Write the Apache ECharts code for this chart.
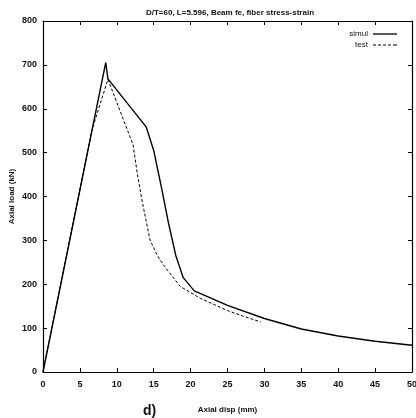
<!DOCTYPE html>
<html>
<head>
<meta charset="utf-8">
<script src="https://cdn.jsdelivr.net/npm/echarts@6/dist/echarts.min.js"></script>
<style>
  html, body { margin: 0; padding: 0; background: #fff; }
  #chart { width: 416px; height: 418px; }
</style>
</head>
<body>
<div id="chart"></div>
<script>
// Axial load vs axial displacement: simulation vs test
const simulDisp = [0, 8.5, 8.8, 14.0, 15.0, 16.0, 17.0, 18.0, 19.0, 20.5, 25, 30, 35, 40, 45, 50];
const simulLoad = [0, 705, 668, 558, 505, 425, 340, 265, 215, 185, 152, 122, 98, 82, 70, 61];

const testDisp = [0, 6.6, 8.8, 12.2, 12.8, 13.4, 14.5, 15.5, 16.5, 18.6, 21.3, 25, 27, 29.5];
const testLoad = [0, 550, 667, 518, 450, 392, 301, 265, 240, 195, 168, 140, 128, 114];

const xTicks = [0, 5, 10, 15, 20, 25, 30, 35, 40, 45, 50];
const yTicks = [0, 100, 200, 300, 400, 500, 600, 700, 800];

const titleText = 'D/T=60, L=5.596, Beam fe, fiber stress-strain';
const xName = 'Axial disp (mm)';
const yName = 'Axial load (kN)';
const seriesNames = ['simul', 'test'];

const FONT = '"Liberation Sans", Arial, sans-serif';
const pairs = (xs, ys) => xs.map((x, i) => [x, ys[i]]);

const chart = echarts.init(document.getElementById('chart'), null, { renderer: 'canvas' });

const tickStyle = { show: true, inside: true, length: 4, lineStyle: { color: '#000', width: 1 } };
const lineStyle = { color: '#000', width: 1.2 };

chart.setOption({
  animation: false,
  backgroundColor: '#fff',
  title: {
    text: titleText,
    left: 225, top: 4, textAlign: 'center',
    textStyle: { fontFamily: FONT, fontSize: 8, fontWeight: 'bold', color: '#111' }
  },
  grid: { left: 43, right: 4, top: 21, bottom: 46, outerBoundsMode: 'none', containLabel: false },
  xAxis: [{
    type: 'value', min: 0, max: 50, interval: 5,
    name: xName, nameLocation: 'middle', nameGap: 34, nameMoveOverlap: false,
    nameTextStyle: { fontFamily: FONT, fontSize: 8, fontWeight: 'bold', color: '#111' },
    axisLine: { show: true, onZero: false, lineStyle },
    axisTick: tickStyle,
    axisLabel: { margin: 8, fontFamily: FONT, fontSize: 9, fontWeight: 'bold', color: '#111',
      formatter: v => xTicks.includes(v) ? String(v) : '' },
    splitLine: { show: false }
  }, {
    type: 'value', position: 'top', min: 0, max: 50, interval: 5,
    axisLine: { show: true, onZero: false, lineStyle },
    axisTick: tickStyle, axisLabel: { show: false }, splitLine: { show: false }
  }],
  yAxis: [{
    type: 'value', min: 0, max: 800, interval: 100,
    name: yName, nameLocation: 'middle', nameGap: 27, nameRotate: 90, nameMoveOverlap: false,
    nameTextStyle: { fontFamily: FONT, fontSize: 8, fontWeight: 'bold', color: '#111' },
    axisLine: { show: true, onZero: false, lineStyle },
    axisTick: tickStyle,
    axisLabel: { margin: 6, fontFamily: FONT, fontSize: 9, fontWeight: 'bold', color: '#111',
      formatter: v => yTicks.includes(v) ? String(v) : '' },
    splitLine: { show: false }
  }, {
    type: 'value', position: 'right', min: 0, max: 800, interval: 100,
    axisLine: { show: true, onZero: false, lineStyle },
    axisTick: tickStyle, axisLabel: { show: false }, splitLine: { show: false }
  }],
  legend: {
    right: 14, top: 25, orient: 'vertical', align: 'right',
    itemWidth: 24, itemHeight: 8, itemGap: 3,
    textStyle: { fontFamily: FONT, fontSize: 8, color: '#111' },
    data: [
      { name: seriesNames[0], icon: 'path://M0,0 L24,0 L24,1.3 L0,1.3 Z' },
      { name: seriesNames[1], icon: 'path://M0,0 L3,0 L3,1 L0,1 Z M5,0 L8,0 L8,1 L5,1 Z M10,0 L13,0 L13,1 L10,1 Z M15,0 L18,0 L18,1 L15,1 Z M20,0 L24,0 L24,1 L20,1 Z' }
    ]
  },
  series: [{
    name: seriesNames[0], type: 'line', showSymbol: false, symbol: 'none',
    data: pairs(simulDisp, simulLoad),
    itemStyle: { color: '#000' },
    lineStyle: { color: '#000', width: 1.4 }
  }, {
    name: seriesNames[1], type: 'line', showSymbol: false, symbol: 'none',
    data: pairs(testDisp, testLoad),
    itemStyle: { color: '#000' },
    lineStyle: { color: '#000', width: 1, type: [3, 2] }
  }],
  graphic: [{
    type: 'text', left: 143, top: 404,
    style: { text: 'd)', fontFamily: FONT, fontSize: 14, fontWeight: 'bold', fill: '#111' }
  }]
});
</script>
</body>
</html>
